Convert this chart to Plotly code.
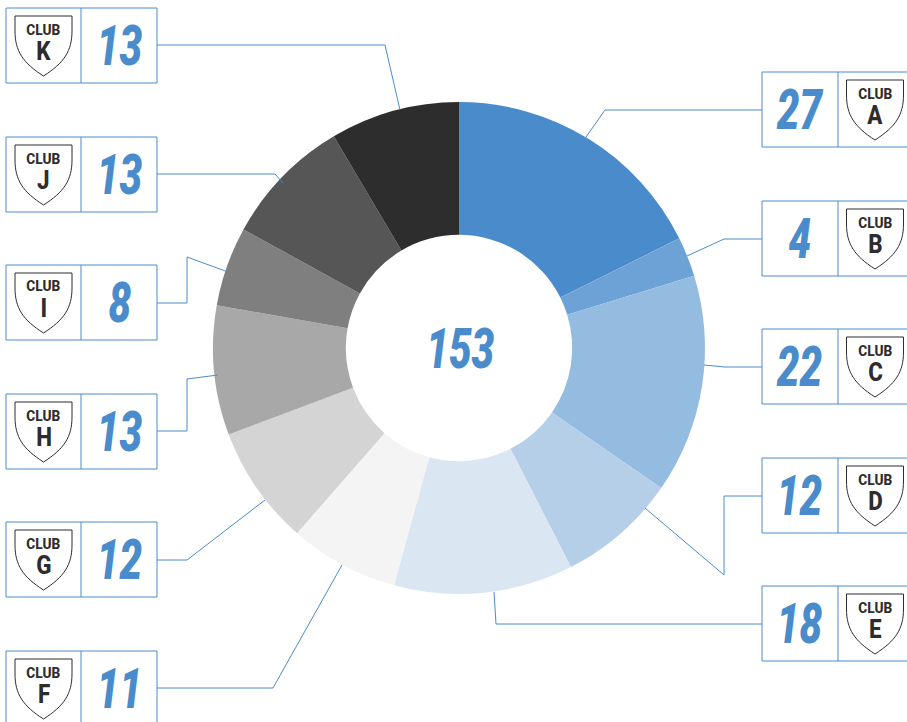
import plotly.graph_objects as go

clubs = ["A", "B", "C", "D", "E", "F", "G", "H", "I", "J", "K"]
values = [27, 4, 22, 12, 18, 11, 12, 13, 8, 13, 13]
colors = ["#4a8ccb", "#6da2d7", "#94bbe0", "#b6cfe9", "#dbe6f3", "#f4f4f4",
          "#d4d4d4", "#a8a8a8", "#7f7f7f", "#565656", "#2d2d2d"]

W, H = 907, 722
BLUE = "#4a8ccb"
DARK = "#2d2d2d"
FONT = "Roboto, sans-serif"


def px(x):
    return x / W


def py(y):
    return 1 - y / H


# box top (pixels) and leader polyline per club
box_top = {"A": 72, "B": 201, "C": 329, "D": 458, "E": 586,
           "K": 8, "J": 137, "I": 265, "H": 394, "G": 522, "F": 651}
leaders = {
    "A": [(762, 110), (605, 110), (586, 137)],
    "B": [(762, 239), (724, 239), (687, 256)],
    "C": [(762, 367), (725, 367), (704, 365)],
    "D": [(762, 496), (724, 496), (724, 575), (645, 508)],
    "E": [(762, 624), (496, 624), (494, 592)],
    "F": [(157, 688), (273, 688), (342, 565)],
    "G": [(157, 560), (187, 560), (265, 500)],
    "H": [(157, 431), (187, 431), (187, 379), (218, 375)],
    "I": [(157, 303), (187, 303), (187, 257), (228, 272)],
    "J": [(157, 174), (275, 174), (283, 183)],
    "K": [(157, 45), (385, 45), (400, 110)],
}

cx, cy, R = 459, 348, 246

fig = go.Figure(go.Pie(
    labels=["Club " + c for c in clubs],
    values=values,
    sort=False,
    direction="clockwise",
    rotation=0,
    hole=0.46,
    textinfo="none",
    hoverinfo="label+value",
    marker=dict(colors=colors, line=dict(width=0)),
    domain=dict(x=[px(cx - R), px(cx + R)], y=[py(cy + R), py(cy - R)]),
    showlegend=False,
))

shapes = []
annotations = []


def line_path(points):
    return "M " + " L ".join(f"{px(x)} {py(y)}" for x, y in points)


def shield_path(x0, y0):
    """Shield badge outline; x0/y0 is its top-left corner in pixels."""
    w, h = 57, 60

    def p(dx, dy):
        return f"{px(x0 + dx)} {py(y0 + dy)}"
    return (f"M {p(0, 0)} L {p(w, 0)} L {p(w, 15)} "
            f"C {p(w, 35)} {p(w - 8, 47)} {p(w / 2, h)} "
            f"C {p(8, 47)} {p(0, 35)} {p(0, 15)} Z")


def text(x, y, s, size, color, weight=700, style="normal"):
    annotations.append(dict(x=px(x), y=py(y), xref="paper", yref="paper",
                            text=s, showarrow=False, xanchor="center", yanchor="middle",
                            font=dict(family=FONT, size=size, color=color, weight=weight, style=style)))


for club, value in zip(clubs, values):
    top = box_top[club]
    bottom = top + 75
    if club in "FGHIJK":
        x0, x1, div = 6, 157, 81
        badge_cx, num_cx = 43.5, 119
    else:
        x0, x1, div = 762, 915, 838
        badge_cx, num_cx = 875, 799
    line = dict(color=BLUE, width=1)
    shapes.append(dict(type="rect", xref="paper", yref="paper",
                       x0=px(x0), x1=px(x1), y0=py(bottom), y1=py(top),
                       line=line, fillcolor="rgba(0,0,0,0)"))
    shapes.append(dict(type="line", xref="paper", yref="paper",
                       x0=px(div), x1=px(div), y0=py(bottom), y1=py(top), line=line))
    shapes.append(dict(type="path", xref="paper", yref="paper",
                       path=line_path(leaders[club]), line=line))
    shapes.append(dict(type="path", xref="paper", yref="paper",
                       path=shield_path(badge_cx - 28.5, top + 8),
                       line=dict(color=DARK, width=1), fillcolor="white"))
    text(badge_cx, top + 21.5, "CLUB", 15.5, DARK, weight=800)
    text(badge_cx, top + 43, club, 26, DARK, weight=800)
    text(num_cx, top + 38, str(value), 56, BLUE, weight=900, style="italic")

text(460, cy + 1, str(sum(values)), 56, BLUE, weight=900, style="italic")

fig.update_layout(
    width=W, height=H,
    margin=dict(l=0, r=0, t=0, b=0),
    paper_bgcolor="white",
    plot_bgcolor="white",
    shapes=shapes,
    annotations=annotations,
)

# The reference uses a condensed face; Roboto is narrowed here while staying real text.
post = """
document.body.style.margin = '0';
document.body.style.overflow = 'hidden';
document.querySelectorAll('.annotation-text').forEach(function (t) {
  var size = parseFloat(t.style.fontSize);
  var k = size > 40 ? 0.72 : (size < 20 ? 0.88 : 0.86);
  t.setAttribute('textLength', t.getComputedTextLength() * k);
  t.setAttribute('lengthAdjust', 'spacingAndGlyphs');
});
"""
fig.write_html("out.html", config=dict(displayModeBar=False), post_script=post)
